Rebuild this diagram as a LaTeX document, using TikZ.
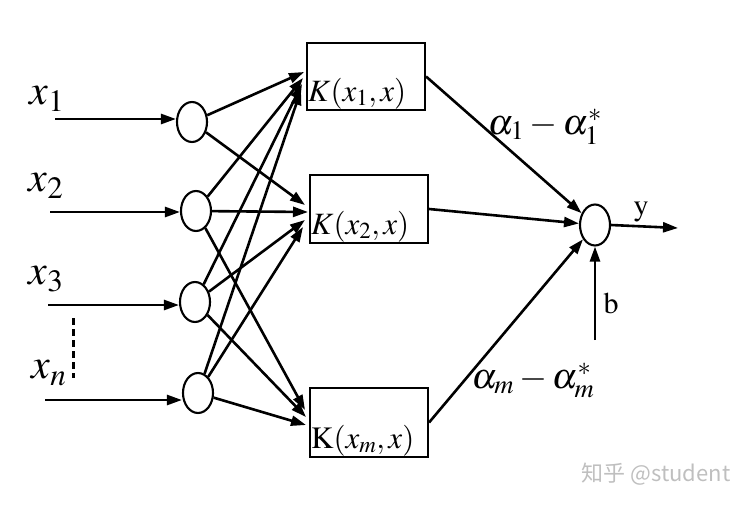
\documentclass[tikz,border=0pt]{standalone}
\usepackage[no-math]{fontspec}
\usepackage{mathptmx}
\newfontfamily\cjk{Noto Sans CJK SC}
\usetikzlibrary{shapes.geometric,arrows.meta}
\tikzset{
  neuron/.style={draw, ellipse, line width=2.1pt, minimum width=30pt, minimum height=40pt, inner sep=0pt},
  kbox/.style={draw, rectangle, line width=2.1pt, minimum width=118pt, minimum height=67pt, inner sep=0pt},
  link/.style={line width=2.6pt, -{Triangle[length=15pt,width=10pt]}},
  lab/.style={font=\fontsize{36}{40}\selectfont, inner sep=0pt},
  xlab/.style={font=\fontsize{42}{46}\selectfont, inner sep=0pt},
  klab/.style={font=\fontsize{31}{34}\selectfont, inner sep=0pt, anchor=base west},
}
\begin{document}
\begin{tikzpicture}[x=1pt,y=-1pt]
\useasboundingbox (0,0) rectangle (751,505);
% input neurons
\node[neuron] (c1) at (192,122) {};
\node[neuron] (c2) at (196,211) {};
\node[neuron] (c3) at (195,302) {};
\node[neuron] (c4) at (198,393) {};
% kernel boxes
\node[kbox] (b1) at (366,76.5) {};
\node[kbox, minimum height=68pt] (b2) at (369,209) {};
\node[kbox, minimum height=69pt] (b3) at (369,422.5) {};
\node[klab] (k1) at ([shift={(2pt,10pt)}]b1.south west) {$K(x_1,x)$};
\node[klab] (k2) at ([shift={(2pt,10pt)}]b2.south west) {$K(x_2,x)$};
\node[klab] (k3) at ([shift={(2pt,10pt)}]b3.south west) {$\mathrm{K}(x_m,x)$};
% output neuron
\node[neuron, minimum height=41pt] (o) at (595,225) {};
% input labels and start points
\node[xlab] (lx1) at (47,99) {$x_1$};
\node[xlab] (lx2) at (46,186) {$x_2$};
\node[xlab] (lx3) at (46,279) {$x_3$};
\node[xlab] (lxn) at (49,373) {$x_n$};
\coordinate (i1) at (55,119);
\coordinate (i2) at (50,212);
\coordinate (i3) at (48,305);
\coordinate (i4) at (45,400);
\coordinate (d1) at (73,318);
\coordinate (d2) at (73,378);
\draw[line width=3pt, dash pattern=on 7pt off 4pt] (d1) -- (d2);
\draw[link] (i1) -- (i1 -| c1.west);
\draw[link] (i2) -- (i2 -| c2.west);
\draw[link] (i3) -- (i3 -| c3.west);
\draw[link] (i4) -- (i4 -| c4.west);
% arrow tips at the kernel boxes
\coordinate (t11) at (304,72);
\coordinate (t21) at (303,78);
\coordinate (t31) at (302,84);
\coordinate (t41) at (301,90);
\coordinate (t12) at (305,205);
\coordinate (t22) at (308,212);
\coordinate (t32) at (305,220);
\coordinate (t42) at (303,227);
\coordinate (t23) at (305,410);
\coordinate (t33) at (306,417);
\coordinate (t43) at (306,425);
\draw[link] (c1) -- (t11);
\draw[link] (c1) -- (t12);
\draw[link] (c2) -- (t21);
\draw[link] (c2) -- (t22);
\draw[link] (c2) -- (t23);
\draw[link] (c3) -- (t31);
\draw[link] (c3) -- (t32);
\draw[link] (c3) -- (t33);
\draw[link] (c4) -- (t41);
\draw[link] (c4) -- (t42);
\draw[link] (c4) -- (t43);
% output connections
\draw[link] (b1.east) -- (o);
\draw[link] (b2.east) -- (o);
\draw[link] (b3.east) -- (o);
\coordinate (yend) at (678,228);
\coordinate (bstart) at (595,340);
\draw[link] (o.east) -- (yend);
\draw[link] (bstart) -- (o.south);
\node[lab, font=\fontsize{30}{32}\selectfont] (ly) at (641,212) {$\mathrm{y}$};
\node[lab, font=\fontsize{30}{32}\selectfont] (lb) at (611,303) {$\mathrm{b}$};
\node[lab] (la1) at (545,127) {$\alpha_1-\alpha_1^{*}$};
\node[lab] (lam) at (533,380) {$\alpha_m-\alpha_m^{*}$};
% watermark
\node[inner sep=0pt, text=black!25, font=\cjk\fontsize{22}{24}\selectfont] (wm) at (656,474) {知乎 @student};
\end{tikzpicture}
\end{document}
